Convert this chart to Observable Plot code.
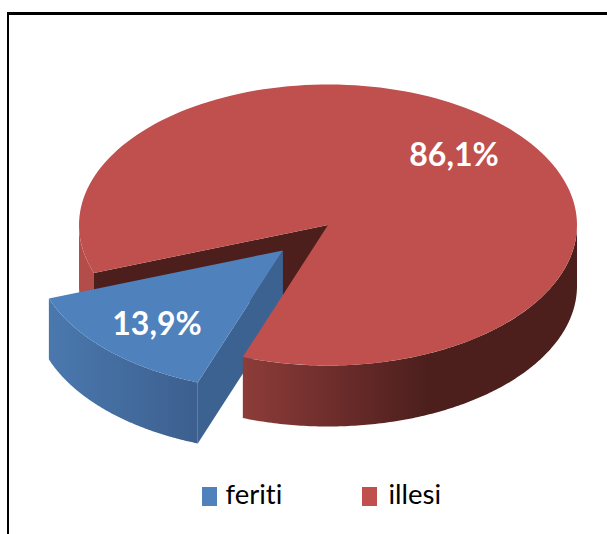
<!DOCTYPE html>
<html><head><meta charset="utf-8">
<script src="https://cdn.jsdelivr.net/npm/d3@7"></script>
<script src="https://cdn.jsdelivr.net/npm/@observablehq/plot@0.6"></script>
<style>html,body{margin:0;padding:0;background:#fff}svg{display:block}</style>
</head><body><div id="c"></div>
<script>
const categories = ["feriti", "illesi"];
const values = [13.9, 86.1];
const labels = ["13,9%", "86,1%"];
const colors = ["#4f81bd", "#c0504d"];

// pie layout
const cx = 327.5, cy = 224.5, rx = 249, ry = 140.5, depth = 61, explode = 0.256, startAngle = 200;
const rad = d => d * Math.PI / 180;
const pt = (t, o = [0, 0], dz = 0) => ({x: cx + o[0] + rx * Math.sin(rad(t)), y: cy + o[1] - ry * Math.cos(rad(t)) + dz});
const arc = (t0, t1, o, dz) => d3.range(0, 161).map(i => pt(t0 + (t1 - t0) * i / 160, o, dz));
const a1 = startAngle + values[0] * 3.6;      // blue: startAngle..a1
const a2 = startAngle + 360;                  // red: a1..a2
const mid = (startAngle + a1) / 2;
const off = [explode * rx * Math.sin(rad(mid)), -explode * ry * Math.cos(rad(mid))];
const centre = (o = [0, 0], dz = 0) => ({x: cx + o[0], y: cy + o[1] + dz});

const redLeftWall = [...arc(a1, 270), ...arc(270, a1, [0, 0], depth)];
const redInnerWall = [centre(), pt(a1), pt(a1, [0, 0], depth), centre([0, 0], depth)];
const blueFront = [...arc(startAngle, a1, off), ...arc(a1, startAngle, off, depth)];
const blueWall = [centre(off), pt(startAngle, off), pt(startAngle, off, depth), centre(off, depth)];
const blueTop = [centre(off), ...arc(startAngle, a1, off)];
const redFront = [...arc(90, startAngle), ...arc(startAngle, 90, [0, 0], depth)];
const redTop = [centre(), ...arc(a1, a2)];

function grad(id, x1, x2, stops) {
  return () => {
    const d = d3.create("svg:defs");
    const g = d.append("linearGradient").attr("id", id).attr("gradientUnits", "userSpaceOnUse")
      .attr("x1", x1).attr("x2", x2).attr("y1", 0).attr("y2", 0);
    stops.forEach(([o, c]) => g.append("stop").attr("offset", o).attr("stop-color", c));
    return d.node();
  };
}
const poly = (pts, fill) => Plot.line(pts, {x: "x", y: "y", fill, stroke: null, curve: "linear"});

const fontFamily = "Lato, 'Noto Sans', sans-serif";
const plot = Plot.plot({
  width: 607, height: 534, margin: 0,
  style: {fontVariantLigatures: "none", background: "#fff"},
  x: {domain: [0, 607], range: [0, 607], axis: null},
  y: {domain: [0, 534], range: [0, 534], axis: null},
  marks: [
    grad("redFrontG", 244, 577, [[0, "#8c3c39"], [0.3, "#692b29"], [0.55, "#4c1f1d"], [1, "#4c1f1d"]]),
    grad("blueFrontG", 50, 199, [[0, "#4a78ae"], [1, "#3c5f8e"]]),
    Plot.ruleY([13], {x1: 7, x2: 607, stroke: "#000", strokeWidth: 3}),
    Plot.ruleX([7.5], {y1: 12, y2: 534, stroke: "#000", strokeWidth: 2}),
    poly(redLeftWall, "#b34d4a"),
    poly(redInnerWall, "#4c1f1d"),
    poly(blueFront, "url(#blueFrontG)"),
    poly(blueWall, "#3c6291"),
    poly(blueTop, colors[0]),
    poly(redFront, "url(#redFrontG)"),
    poly(redTop, colors[1]),
    Plot.text([labels[0]], {x: () => 156.5, y: () => 324.5, text: d => d, fill: "#fff", fontFamily, fontWeight: 700, fontSize: 32}),
    Plot.text([labels[1]], {x: () => 453.5, y: () => 155.5, text: d => d, fill: "#fff", fontFamily, fontWeight: 700, fontSize: 32}),
    Plot.rect(categories, {x1: (d, i) => [202, 362][i], x2: (d, i) => [217, 377][i], y1: () => 487, y2: () => 506, fill: (d, i) => colors[i]}),
    Plot.text(categories, {x: (d, i) => [225, 388][i], y: () => 495, text: d => d, textAnchor: "start", fill: "#000", fontFamily, fontSize: 27.5})
  ]
});
document.getElementById("c").append(plot);
</script></body></html>
